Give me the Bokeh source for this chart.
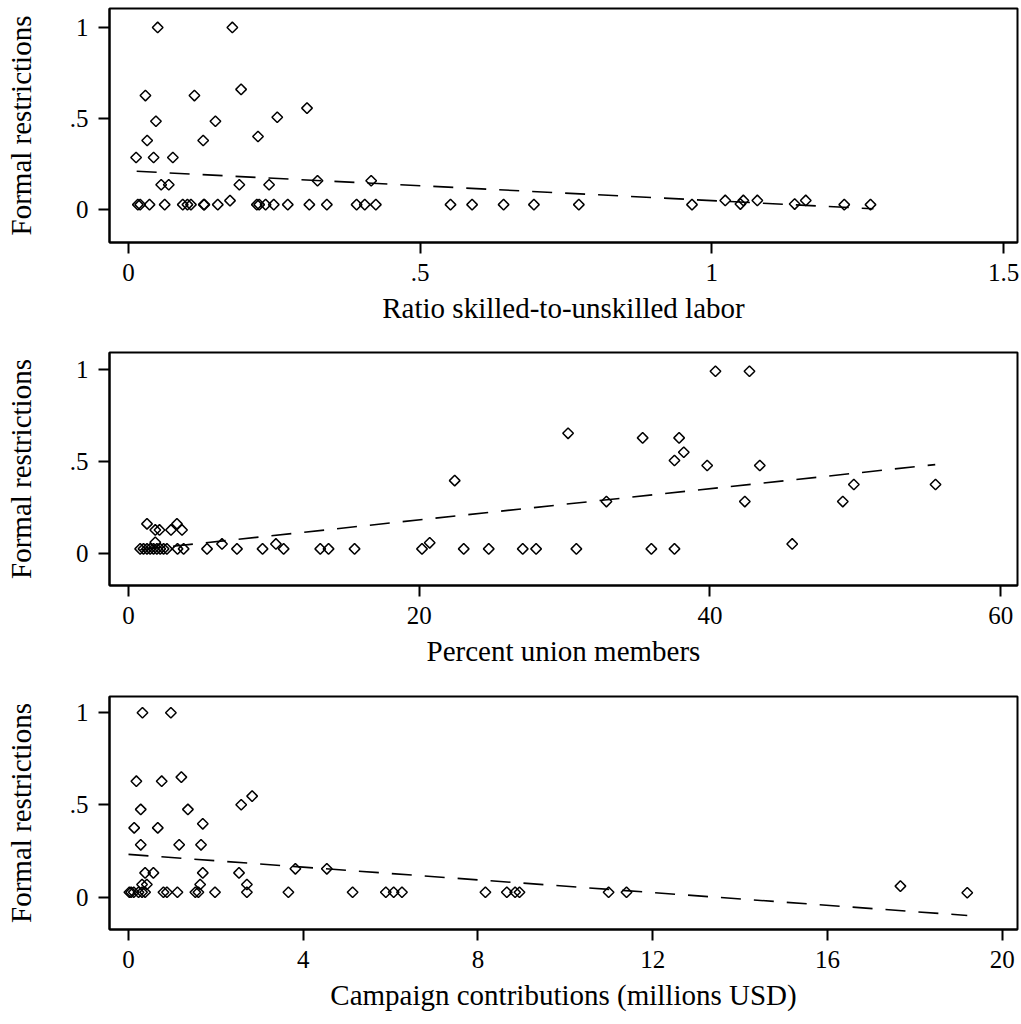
import math
from bokeh.plotting import figure
from bokeh.layouts import column
from bokeh.models import FixedTicker, Range1d
from bokeh.embed import file_html
from bokeh.resources import INLINE

FONT = "Liberation Serif"

# ---------------- data ----------------
# Panel 1: ratio skilled-to-unskilled labor
skill_x = [0.050, 0.178, 0.029, 0.113, 0.193, 0.306, 0.047, 0.149, 0.255, 0.032,
           0.128, 0.222, 0.013, 0.043, 0.076, 0.056, 0.069, 0.190, 0.241, 0.324,
           0.416,
           0.016, 0.020, 0.036, 0.062, 0.093, 0.101, 0.107, 0.129, 0.130, 0.153,
           0.174, 0.220, 0.224, 0.235, 0.249, 0.273, 0.310, 0.340, 0.391, 0.405,
           0.424, 0.552, 0.589, 0.643, 0.695, 0.772, 0.966, 1.023, 1.049, 1.054,
           1.078, 1.142, 1.161, 1.227, 1.272]
skill_y = [1.0, 1.0, 0.626, 0.626, 0.66, 0.557, 0.485, 0.485, 0.507, 0.379,
           0.379, 0.401, 0.286, 0.286, 0.286, 0.136, 0.136, 0.136, 0.136, 0.158,
           0.158,
           0.027, 0.027, 0.027, 0.027, 0.027, 0.027, 0.027, 0.027, 0.027, 0.027,
           0.049, 0.027, 0.027, 0.027, 0.027, 0.027, 0.027, 0.027, 0.027, 0.027,
           0.027, 0.027, 0.027, 0.027, 0.027, 0.027, 0.027, 0.05, 0.03, 0.05,
           0.05, 0.03, 0.05, 0.027, 0.027]
skill_fit_x = [0.014, 1.277]
skill_fit_y = [0.21, 0.004]

# Panel 2: percent union members
union_x = [0.80, 1.03, 1.27, 1.49, 1.72, 1.95, 2.18, 2.41, 2.64,
           1.27, 1.84, 2.13, 2.92, 3.33, 3.68,
           1.84,
           3.37, 3.79, 5.40, 6.43, 7.46, 9.22, 10.14, 10.67, 13.19, 13.76,
           15.55, 20.19, 20.72, 23.06, 24.78, 27.12, 28.04,
           22.44,
           40.38, 42.72, 30.24, 35.37, 37.88, 38.20, 37.56, 39.81, 43.43, 49.90,
           55.52, 32.88, 42.40, 49.14, 30.81, 35.97, 37.56, 45.66]
union_y = [0.027, 0.027, 0.027, 0.027, 0.027, 0.027, 0.027, 0.027, 0.027,
           0.163, 0.13, 0.13, 0.13, 0.163, 0.13,
           0.063,
           0.027, 0.027, 0.027, 0.054, 0.027, 0.027, 0.054, 0.027, 0.027, 0.027,
           0.027, 0.027, 0.06, 0.027, 0.027, 0.027, 0.027,
           0.398,
           0.992, 0.992, 0.655, 0.63, 0.63, 0.552, 0.507, 0.48, 0.48, 0.377,
           0.377, 0.284, 0.284, 0.284, 0.027, 0.027, 0.027, 0.054]
union_fit_x = [0.8, 55.5]
union_fit_y = [0.022, 0.485]

# Panel 3: campaign contributions (millions USD)
contrib_x = [0.32, 0.97, 0.18, 0.76, 1.21, 0.28, 1.36, 2.58, 2.83, 0.13,
             0.67, 1.70, 0.28, 1.16, 1.66, 0.38, 0.57, 1.70, 2.53, 3.82,
             4.54, 0.31, 0.42, 1.64, 2.71,
             0.02, 0.06, 0.12, 0.23, 0.31, 0.38, 0.80, 0.88, 1.12, 1.53,
             1.60, 1.98, 2.71, 3.66, 5.13, 5.89, 6.07, 6.26, 8.17, 8.66,
             8.85, 8.95, 10.99, 11.40, 17.67, 19.20]
contrib_y = [1.0, 1.0, 0.629, 0.629, 0.651, 0.476, 0.476, 0.501, 0.548, 0.376,
             0.376, 0.398, 0.284, 0.284, 0.284, 0.132, 0.132, 0.132, 0.132, 0.154,
             0.154, 0.069, 0.069, 0.069, 0.069,
             0.027, 0.027, 0.027, 0.027, 0.027, 0.027, 0.027, 0.027, 0.027, 0.027,
             0.027, 0.027, 0.027, 0.027, 0.027, 0.027, 0.027, 0.027, 0.027, 0.027,
             0.027, 0.027, 0.027, 0.027, 0.06, 0.024]
contrib_fit_x = [0.0, 19.2]
contrib_fit_y = [0.232, -0.099]

y_ticks = [0, 0.5, 1]
y_tick_labels = ["0", ".5", "1"]
skill_ticks = [0, 0.5, 1, 1.5]
skill_tick_labels = ["0", ".5", "1", "1.5"]
union_ticks = [0, 20, 40, 60]
union_tick_labels = ["0", "20", "40", "60"]
contrib_ticks = [0, 4, 8, 12, 16, 20]
contrib_tick_labels = ["0", "4", "8", "12", "16", "20"]

y_title = "Formal restrictions"
skill_title = "Ratio skilled-to-unskilled labor"
union_title = "Percent union members"
contrib_title = "Campaign contributions (millions USD)"


def make_panel(xs, ys, fx, fy, xr, yr, xticks, xlabels, xtitle, height, top, bottom):
    p = figure(width=1021, height=height, output_backend="svg", toolbar_location=None,
               x_range=Range1d(*xr), y_range=Range1d(*yr),
               min_border_left=109, min_border_right=4,
               min_border_top=top, min_border_bottom=bottom)
    p.background_fill_color = "white"
    p.border_fill_color = "white"
    p.xgrid.visible = False
    p.ygrid.visible = False
    p.outline_line_color = "black"
    p.outline_line_width = 2
    p.outline_line_alpha = 1

    p.line(fx, fy, line_color="black", line_width=1.6, line_dash="20 13")
    p.scatter(xs, ys, marker="square", angle=math.pi / 4, size=7.5,
              fill_color=None, line_color="black", line_width=1.5)

    p.xaxis.ticker = FixedTicker(ticks=xticks)
    p.xaxis.major_label_overrides = {t: l for t, l in zip(xticks, xlabels)}
    p.yaxis.ticker = FixedTicker(ticks=y_ticks)
    p.yaxis.major_label_overrides = {t: l for t, l in zip(y_ticks, y_tick_labels)}
    p.xaxis.axis_label = xtitle
    p.yaxis.axis_label = y_title

    for ax in (p.xaxis[0], p.yaxis[0]):
        ax.axis_line_width = 2
        ax.axis_line_color = "black"
        ax.major_tick_line_width = 2
        ax.major_tick_line_color = "black"
        ax.major_tick_out = 11
        ax.major_tick_in = 0
        ax.minor_tick_line_color = None
        ax.major_label_text_font = FONT
        ax.major_label_text_font_size = "25px"
        ax.major_label_text_color = "black"
        ax.axis_label_text_font = FONT
        ax.axis_label_text_font_size = "29px"
        ax.axis_label_text_font_style = "normal"
        ax.axis_label_text_color = "black"
    p.xaxis.major_label_standoff = 10
    p.xaxis.axis_label_standoff = 8
    p.yaxis.major_label_standoff = 10
    p.yaxis.axis_label_standoff = 30
    return p


p1 = make_panel(skill_x, skill_y, skill_fit_x, skill_fit_y,
                (-0.0326, 1.524), (-0.181, 1.104),
                skill_ticks, skill_tick_labels, skill_title, 340, 8, 98)
p2 = make_panel(union_x, union_y, union_fit_x, union_fit_y,
                (-1.31, 61.16), (-0.172, 1.094),
                union_ticks, union_tick_labels, union_title, 341, 12, 96)
p3 = make_panel(contrib_x, contrib_y, contrib_fit_x, contrib_fit_y,
                (-0.435, 20.35), (-0.175, 1.088),
                contrib_ticks, contrib_tick_labels, contrib_title, 343, 15, 95)

layout = column(p1, p2, p3, spacing=0)
open("out.html", "w").write(file_html(layout, INLINE))
